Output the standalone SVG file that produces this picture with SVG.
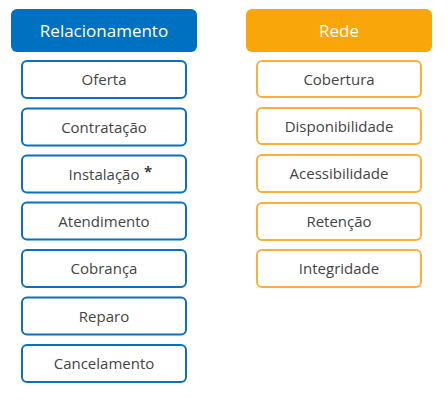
<svg xmlns="http://www.w3.org/2000/svg" width="447" height="404" viewBox="0 0 447 404">
<style>
.hdr{stroke:none}
.hb{fill:#0070C0}
.ho{fill:#F9A60A}
.box{fill:#fff;stroke-width:2}
.bb{stroke:#0A70BF}
.bo{stroke:#F8B13C}
text{font-family:"Open Sans","Liberation Sans",sans-serif;text-anchor:middle}
.ht{fill:#fff;font-size:17px}
.t{fill:#444;font-size:15px}
</style>
<rect width="447" height="404" fill="#fff"/>
<g id="relacionamento"><rect class="hdr hb" x="11" y="9" width="186" height="43" rx="6"/><text class="ht" x="104" y="37">Relacionamento</text></g>
<g id="rede"><rect class="hdr ho" x="246" y="9" width="186" height="43" rx="6"/><text class="ht" x="339" y="37">Rede</text></g>
<g id="oferta"><rect class="box bb" x="22" y="61" width="164" height="37" rx="5"/><text class="t" x="104" y="85">Oferta</text></g>
<g id="contratacao"><rect class="box bb" x="22" y="108.5" width="164" height="37" rx="5"/><text class="t" x="104" y="132.5">Contratação</text></g>
<g id="instalacao"><rect class="box bb" x="22" y="155.5" width="164" height="37" rx="5"/><text class="t" x="104" y="179.5">Instalação</text><text x="148" y="177" style="font-size:15px;font-weight:bold;fill:#444">*</text></g>
<g id="atendimento"><rect class="box bb" x="22" y="202.5" width="164" height="37" rx="5"/><text class="t" x="104" y="226.5">Atendimento</text></g>
<g id="cobranca"><rect class="box bb" x="22" y="250" width="164" height="37" rx="5"/><text class="t" x="104" y="274">Cobrança</text></g>
<g id="reparo"><rect class="box bb" x="22" y="297.5" width="164" height="37" rx="5"/><text class="t" x="104" y="321.5">Reparo</text></g>
<g id="cancelamento"><rect class="box bb" x="22" y="345" width="164" height="37" rx="5"/><text class="t" x="104" y="369">Cancelamento</text></g>
<g id="cobertura"><rect class="box bo" x="257" y="61" width="164" height="36" rx="5"/><text class="t" x="339" y="84.5">Cobertura</text></g>
<g id="disponibilidade"><rect class="box bo" x="257" y="108" width="164" height="36" rx="5"/><text class="t" x="339" y="131.5">Disponibilidade</text></g>
<g id="acessibilidade"><rect class="box bo" x="257" y="155" width="164" height="37" rx="5"/><text class="t" x="339" y="179">Acessibilidade</text></g>
<g id="retencao"><rect class="box bo" x="257" y="203" width="164" height="37" rx="5"/><text class="t" x="339" y="227">Retenção</text></g>
<g id="integridade"><rect class="box bo" x="257" y="250" width="164" height="37" rx="5"/><text class="t" x="339" y="274">Integridade</text></g>
<g id="connectors"/>
</svg>
